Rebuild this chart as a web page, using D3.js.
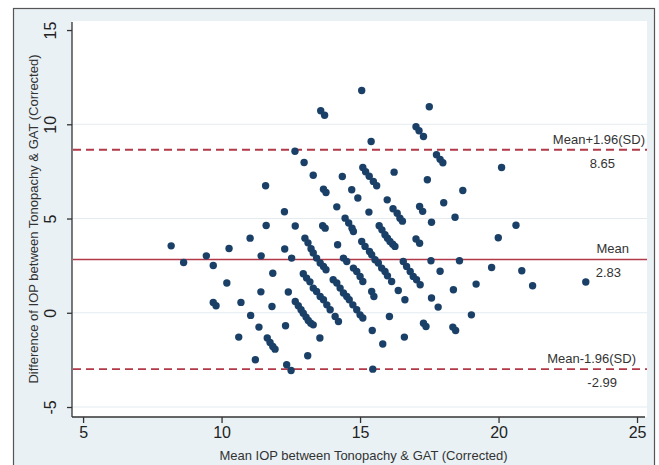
<!DOCTYPE html>
<html>
<head>
<meta charset="utf-8">
<script src="https://cdn.jsdelivr.net/npm/d3@7"></script>
<style>
  body { margin: 0; background: #fff; }
  svg { display: block; font-family: "Liberation Sans", Arial, sans-serif; }
</style>
</head>
<body>
<svg width="659" height="465"></svg>
<script>
// mean of the two IOP readings (x) and their difference (y)
const meanIOP = [
  13.58, 13.72, 15.06, 17.50, 17.02, 17.13, 17.29, 15.40, 12.65, 17.76,
  17.89, 17.99, 20.11, 12.98, 13.31, 14.36, 15.10, 15.20, 15.33, 15.48,
  15.60, 16.23, 17.43, 11.59, 13.68, 13.77, 14.70, 14.92, 18.71, 14.16,
  15.32, 15.98, 16.19, 16.34, 16.44, 16.53, 17.15, 17.26, 18.02, 17.58,
  18.43, 20.63, 12.27, 11.61, 12.66, 13.65, 13.74, 14.46, 14.59, 14.71,
  14.76, 15.69, 15.79, 15.90, 15.99, 16.08, 16.18, 16.26, 19.99, 17.02,
  17.15, 11.03, 10.27, 9.45, 9.70, 8.18, 8.63, 11.43, 12.28, 12.53,
  11.85, 10.19, 9.70, 9.80, 10.70, 11.42, 12.41, 11.82, 11.05, 11.35,
  10.62, 11.65, 11.75, 11.85, 11.93, 12.31, 11.22, 12.35, 12.51, 13.11,
  12.66, 12.77, 12.87, 12.95, 13.05, 13.13, 13.22, 13.31, 13.55,
  13.01, 13.12, 13.23, 13.31, 13.43, 13.56, 13.68, 13.77,
  12.95, 13.07, 13.19, 13.31, 13.43, 13.56, 13.68, 13.80, 13.92, 14.10, 14.22,
  14.03, 14.16, 14.28, 14.40, 14.52, 14.61, 14.74, 14.88, 15.00, 15.10,
  14.19, 14.40, 14.52,
  15.06, 15.18, 15.34, 15.42, 15.54, 15.66, 15.78, 15.90, 15.99,
  14.76, 14.88, 15.00, 15.10,
  16.56, 16.68, 16.81, 16.92, 17.04, 17.17,
  16.14, 16.38, 16.62, 17.56, 17.89, 18.59, 19.75, 17.58, 17.82, 18.37,
  19.19, 19.02, 17.29, 17.38, 18.35, 18.45, 15.44, 16.06, 15.82, 15.46,
  16.60, 15.42, 15.50, 20.84, 21.23, 23.15
];
const diffIOP = [
  10.72, 10.48, 11.79, 10.93, 9.87, 9.66, 9.35, 9.09, 8.57, 8.38,
  8.14, 7.96, 7.71, 7.97, 7.30, 7.23, 7.71, 7.48, 7.24, 6.97,
  6.74, 7.46, 7.06, 6.74, 6.56, 6.38, 6.53, 6.09, 6.49, 5.62,
  5.34, 5.99, 5.52, 5.28, 5.02, 4.86, 5.64, 5.38, 5.84, 4.80,
  5.07, 4.64, 5.36, 4.63, 4.60, 4.62, 4.49, 5.02, 4.76, 4.49,
  4.31, 4.62, 4.40, 4.14, 3.96, 3.78, 3.64, 3.52, 3.98, 3.91,
  3.69, 3.96, 3.41, 3.02, 2.51, 3.55, 2.67, 3.02, 3.38, 2.90,
  2.10, 1.58, 0.55, 0.37, 0.55, 1.11, 1.10, 0.33, -0.14, -0.76,
  -1.29, -1.34, -1.58, -1.79, -1.93, -0.69, -2.49, -2.76, -3.06, -2.28,
  0.60, 0.37, 0.16, -0.02, -0.23, -0.41, -0.55, -0.64, -1.34,
  3.96, 3.71, 3.40, 3.17, 2.90, 2.64, 2.46, 2.28,
  2.07, 1.84, 1.64, 1.31, 1.13, 0.86, 0.69, 0.42, 0.16, -0.20, -0.46,
  1.75, 1.58, 1.31, 1.05, 0.86, 0.69, 0.42, 0.16, -0.11, -0.28,
  3.61, 2.90, 2.72,
  3.78, 3.52, 3.25, 3.08, 2.81, 2.64, 2.37, 2.19, 1.96,
  2.37, 2.19, 1.93, 1.66,
  2.72, 2.46, 2.19, 1.93, 1.75, 1.49,
  1.66, 1.18, 0.69, 2.76, 2.20, 2.76, 2.40, 0.78, 0.30, 1.22,
  1.52, -0.11, -0.55, -0.73, -0.76, -0.94, -0.94, -0.20, -1.66, -2.99,
  -1.29, 1.13, 0.86, 2.23, 1.43, 1.63
];

const xTicks = [5, 10, 15, 20, 25];
const yTicks = [-5, 0, 5, 10, 15];
const gridValues = [-5, 0, 5, 10];

const refNames = ["Mean+1.96(SD)", "Mean", "Mean-1.96(SD)"];
const refValues = [8.65, 2.83, -2.99];
const refLabels = ["8.65", "2.83", "-2.99"];

const xTitle = "Mean IOP between Tonopachy & GAT (Corrected)";
const yTitle = "Difference of IOP between Tonopachy & GAT (Corrected)";

const data = meanIOP.map((m, i) => ({ x: m, y: diffIOP[i] }));

const svg = d3.select("svg");
const plot = { left: 72, right: 647, top: 21, bottom: 417 };

const x = d3.scaleLinear().domain([4.6, 25.36]).range([plot.left, plot.right]);
const y = d3.scaleLinear().domain([-5.53, 15.48]).range([plot.bottom, plot.top]);

// outer panel
svg.append("rect")
  .attr("x", 13.5).attr("y", 8.5).attr("width", 641).attr("height", 470)
  .attr("fill", "#e9f1f5").attr("stroke", "#555").attr("stroke-width", 1.2);

svg.append("rect")
  .attr("x", plot.left).attr("y", plot.top)
  .attr("width", plot.right - plot.left).attr("height", plot.bottom - plot.top)
  .attr("fill", "#fff");

// gridlines
svg.append("g").selectAll("line")
  .data(gridValues).join("line")
  .attr("x1", plot.left).attr("x2", plot.right)
  .attr("y1", d => y(d)).attr("y2", d => y(d))
  .attr("stroke", "#e3ebef").attr("stroke-width", 1);

// axes
const xAxis = svg.append("g")
  .attr("transform", `translate(0,${plot.bottom})`)
  .call(d3.axisBottom(x).tickValues(xTicks).tickSize(6).tickPadding(4).tickFormat(d => String(d)));
xAxis.select(".domain").attr("stroke", "#333").attr("stroke-width", 1.3)
  .attr("d", `M${plot.left},0H${plot.right - 2}`);
xAxis.selectAll(".tick line").attr("stroke", "#333").attr("stroke-width", 1.3);
xAxis.selectAll(".tick text").attr("font-size", 16).attr("fill", "#222");

const yAxis = svg.append("g")
  .attr("transform", `translate(${plot.left},0)`)
  .call(d3.axisLeft(y).tickValues(yTicks).tickSize(5).tickFormat(d => String(d)));
yAxis.select(".domain").attr("stroke", "#333").attr("stroke-width", 1.3)
  .attr("d", `M0,${plot.top + 1}V${plot.bottom}`);
yAxis.selectAll(".tick line").attr("stroke", "#333").attr("stroke-width", 1.3);
yAxis.selectAll(".tick text")
  .attr("font-size", 16).attr("fill", "#222")
  .attr("x", null).attr("dy", null)
  .attr("text-anchor", "middle")
  .attr("transform", "translate(-16,0) rotate(-90)");

// reference lines
svg.append("g").selectAll("line")
  .data(refValues).join("line")
  .attr("x1", plot.left + 1).attr("x2", plot.right)
  .attr("y1", d => y(d)).attr("y2", d => y(d))
  .attr("stroke", "#b23a48")
  .attr("stroke-width", (d, i) => i === 1 ? 1.4 : 1.8)
  .attr("stroke-dasharray", (d, i) => i === 1 ? null : "8,5");

// points
svg.append("g").selectAll("circle")
  .data(data).join("circle")
  .attr("cx", d => x(d.x)).attr("cy", d => y(d.y))
  .attr("r", 3.7)
  .attr("fill", "#1a4068");

// reference labels
const nameX = [645, 629, 636];
const valX = [615, 621, 617];
svg.append("g").selectAll("text")
  .data(refNames).join("text")
  .attr("x", (d, i) => nameX[i])
  .attr("y", (d, i) => y(refValues[i]) - 6)
  .attr("text-anchor", "end")
  .attr("font-size", 13).attr("fill", "#333")
  .text(d => d);
svg.append("g").selectAll("text")
  .data(refLabels).join("text")
  .attr("x", (d, i) => valX[i])
  .attr("y", (d, i) => y(refValues[i]) + 18)
  .attr("text-anchor", "end")
  .attr("font-size", 13).attr("fill", "#333")
  .text(d => d);

// axis titles
svg.append("text")
  .attr("x", (plot.left + plot.right) / 2 + 4).attr("y", 460)
  .attr("text-anchor", "middle").attr("font-size", 13).attr("fill", "#333")
  .text(xTitle);

svg.append("text")
  .attr("transform", `translate(38,${(plot.top + plot.bottom) / 2}) rotate(-90)`)
  .attr("text-anchor", "middle").attr("font-size", 13).attr("fill", "#333")
  .text(yTitle);
</script>
</body>
</html>
